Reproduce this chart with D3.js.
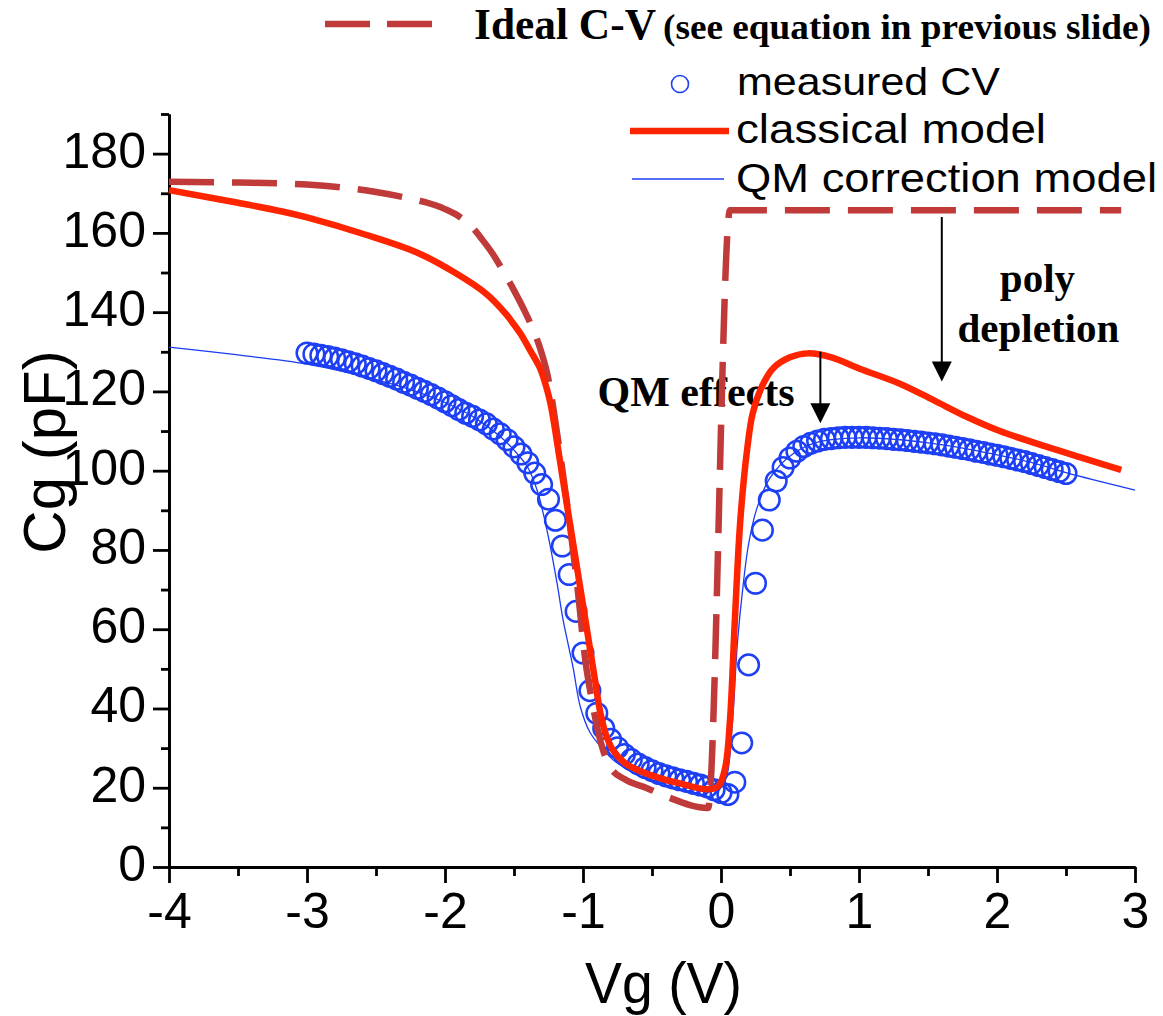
<!DOCTYPE html>
<html>
<head>
<meta charset="utf-8">
<script src="https://cdn.jsdelivr.net/npm/d3@7"></script>
<style>
  body { margin: 0; background: #ffffff; }
  svg { display: block; }
</style>
</head>
<body>
<svg id="chart" width="1163" height="1016"></svg>
<script>
// ---- data (Vg in volts, Cg in pF) ----
const idealCV = [
  [-4.00, 172.9], [-3.50, 172.7], [-3.00, 172.2], [-2.70, 171.3], [-2.50, 170.3],
  [-2.30, 169.0], [-2.15, 167.8], [-2.00, 166.0], [-1.90, 164.2], [-1.80, 161.3],
  [-1.73, 158.3], [-1.65, 154.5], [-1.57, 149.8], [-1.50, 145.5], [-1.43, 140.8],
  [-1.37, 136.3], [-1.31, 130.8], [-1.26, 124.6], [-1.17, 105.2], [-1.094, 86.0],
  [-1.02, 64.0], [-1.00, 57.0], [-0.93, 41.0], [-0.855, 29.5], [-0.80, 25.0],
  [-0.70, 22.2], [-0.536, 19.9], [-0.39, 17.7], [-0.094, 14.9], [0.065, 165.7],
  [2.90, 165.7]
];

const classicalModel = [
  [-4.00, 170.8], [-3.50, 167.6], [-3.18, 165.4], [-3.00, 163.9], [-2.58, 159.6],
  [-2.20, 155.0], [-1.93, 150.0], [-1.70, 144.6], [-1.55, 139.2], [-1.507, 137.2],
  [-1.45, 134.4], [-1.384, 130.4], [-1.312, 125.9], [-1.261, 120.5], [-1.23, 116.0],
  [-1.203, 110.5], [-1.145, 97.6], [-1.087, 85.0], [-1.029, 72.4], [-0.971, 59.8],
  [-0.913, 47.2], [-0.878, 39.6], [-0.833, 33.3], [-0.783, 29.5], [-0.696, 26.2],
  [-0.60, 24.4], [-0.536, 23.5], [-0.40, 22.0], [-0.297, 21.1], [-0.10, 19.6],
  [-0.02, 20.4], [0.03, 25.0], [0.065, 37.0], [0.10, 62.0], [0.14, 87.5],
  [0.19, 105.5], [0.23, 114.5], [0.30, 121.5], [0.377, 125.8], [0.50, 128.6],
  [0.63, 129.6], [0.80, 128.6], [1.00, 125.8], [1.30, 121.9], [1.54, 117.8],
  [1.78, 113.6], [2.02, 110.0], [2.38, 105.8], [2.60, 103.4], [2.90, 100.2]
];

const qmModel = [
  [-4.00, 131.2], [-3.50, 129.2], [-3.00, 126.9], [-2.50, 123.0], [-2.20, 119.9],
  [-2.00, 117.2], [-1.80, 113.7], [-1.60, 108.6], [-1.50, 105.2], [-1.40, 100.8],
  [-1.33, 94.8], [-1.26, 84.8], [-1.19, 72.0], [-1.145, 62.5], [-1.10, 55.0],
  [-1.07, 50.0], [-1.02, 40.5], [-0.95, 34.0], [-0.85, 29.5], [-0.78, 27.0],
  [-0.65, 24.0], [-0.536, 22.2], [-0.30, 20.8], [-0.06, 19.9], [0.00, 20.5],
  [0.04, 22.7], [0.08, 35.0], [0.12, 57.0], [0.16, 71.0], [0.20, 81.5],
  [0.26, 90.5], [0.355, 98.2], [0.52, 104.2], [0.70, 107.2], [1.00, 108.3],
  [1.30, 107.8], [1.50, 107.0], [1.80, 105.4], [2.00, 104.0], [2.26, 102.0],
  [2.50, 99.5], [3.00, 95.1]
];

const measuredCV = [
  [-3.00, 129.7], [-2.95, 129.4], [-2.90, 129.1], [-2.85, 128.8], [-2.80, 128.4],
  [-2.75, 128.0], [-2.70, 127.5], [-2.65, 127.0], [-2.60, 126.4], [-2.55, 125.8],
  [-2.50, 125.2], [-2.45, 124.5], [-2.40, 123.8], [-2.35, 123.1], [-2.30, 122.3],
  [-2.25, 121.6], [-2.20, 120.8], [-2.15, 120.0], [-2.10, 119.2], [-2.05, 118.3],
  [-2.00, 117.4], [-1.95, 116.4], [-1.90, 115.4], [-1.85, 114.5], [-1.80, 113.7],
  [-1.75, 112.8], [-1.70, 111.8], [-1.65, 110.5], [-1.60, 109.3], [-1.55, 107.8],
  [-1.50, 106.0], [-1.45, 104.2], [-1.40, 102.0], [-1.35, 99.4], [-1.30, 96.5],
  [-1.25, 92.8], [-1.20, 87.5], [-1.15, 81.0], [-1.10, 73.8], [-1.05, 64.5],
  [-1.00, 54.0], [-0.95, 44.5], [-0.90, 38.8], [-0.85, 35.0], [-0.80, 32.2],
  [-0.75, 30.1], [-0.70, 28.4], [-0.65, 27.1], [-0.60, 26.0], [-0.55, 25.1],
  [-0.50, 24.3], [-0.45, 23.6], [-0.40, 23.0], [-0.35, 22.5], [-0.30, 22.0],
  [-0.25, 21.6], [-0.20, 21.1], [-0.15, 20.7], [-0.10, 20.2], [-0.05, 19.5],
  [0.00, 18.8], [0.05, 18.3], [0.10, 21.4], [0.15, 31.3], [0.20, 51.0],
  [0.25, 71.6], [0.30, 85.0], [0.35, 92.6], [0.40, 97.4], [0.45, 100.8],
  [0.50, 103.2], [0.55, 104.9], [0.60, 106.1], [0.65, 106.9], [0.70, 107.5],
  [0.75, 107.9], [0.80, 108.1], [0.85, 108.3], [0.90, 108.4], [0.95, 108.4],
  [1.00, 108.4], [1.05, 108.4], [1.10, 108.3], [1.15, 108.2], [1.20, 108.1],
  [1.25, 107.9], [1.30, 107.8], [1.35, 107.6], [1.40, 107.4], [1.45, 107.2],
  [1.50, 107.0], [1.55, 106.8], [1.60, 106.5], [1.65, 106.2], [1.70, 105.9],
  [1.75, 105.6], [1.80, 105.3], [1.85, 104.9], [1.90, 104.6], [1.95, 104.2],
  [2.00, 103.9], [2.05, 103.5], [2.10, 103.1], [2.15, 102.7], [2.20, 102.3],
  [2.25, 101.8], [2.30, 101.3], [2.35, 100.8], [2.40, 100.3], [2.45, 99.8],
  [2.50, 99.3]
];

const xMajorTicks = [-4, -3, -2, -1, 0, 1, 2, 3];
const xTickLabels = ["-4", "-3", "-2", "-1", "0", "1", "2", "3"];
const xMinorTicks = [-3.5, -2.5, -1.5, -0.5, 0.5, 1.5, 2.5];
const yMajorTicks = [0, 20, 40, 60, 80, 100, 120, 140, 160, 180];
const yTickLabels = ["0", "20", "40", "60", "80", "100", "120", "140", "160", "180"];
const yMinorTicks = [10, 30, 50, 70, 90, 110, 130, 150, 170, 190];

// arrows: [Vg, Cg from, Cg to]
const arrowQM = [0.72, 130.0, 112.0];
const arrowPoly = [1.60, 164.0, 122.5];

// ---- drawing ----
const SANS = "'Liberation Sans', Arial, Helvetica, sans-serif";
const SERIF = "'Liberation Serif', 'Times New Roman', Times, serif";
const C_IDEAL = "#bf3a38";
const C_CLASSIC = "#ff2400";
const C_QM = "#1a3cf5";
const C_MEAS = "#1d3ff5";

const svg = d3.select("#chart");
const x = d3.scaleLinear().domain([-4, 3]).range([169, 1135]);
const y = d3.scaleLinear().domain([0, 190]).range([867, 114]);

// axes
function styleAxis(g) {
  g.selectAll("path.domain").attr("stroke", "#000").attr("stroke-width", 2.8).attr("fill", "none");
  g.selectAll(".tick line").attr("stroke", "#000").attr("stroke-width", 2.8);
}

const xMinorAxis = svg.append("g").attr("transform", `translate(0,${y(0)})`)
  .call(d3.axisBottom(x).tickValues(xMinorTicks).tickSize(9).tickSizeOuter(0).tickFormat(""));
styleAxis(xMinorAxis);
const xAxis = svg.append("g").attr("transform", `translate(0,${y(0)})`)
  .call(d3.axisBottom(x).tickValues(xMajorTicks).tickSize(16).tickSizeOuter(0).tickPadding(9)
    .tickFormat((d, i) => xTickLabels[i]));
styleAxis(xAxis);
xAxis.selectAll(".tick text")
  .attr("font-family", SANS).attr("font-size", 50).attr("fill", "#000");

const yMinorAxis = svg.append("g").attr("transform", `translate(${x(-4)},0)`)
  .call(d3.axisLeft(y).tickValues(yMinorTicks).tickSize(8).tickSizeOuter(0).tickFormat(""));
styleAxis(yMinorAxis);
const yAxis = svg.append("g").attr("transform", `translate(${x(-4)},0)`)
  .call(d3.axisLeft(y).tickValues(yMajorTicks).tickSize(16).tickSizeOuter(0).tickPadding(7)
    .tickFormat((d, i) => yTickLabels[i]));
styleAxis(yAxis);
yAxis.selectAll(".tick text")
  .attr("font-family", SANS).attr("font-size", 50).attr("fill", "#000").attr("dy", "0.27em");

// axis titles
svg.append("text")
  .attr("transform", "translate(65,452) rotate(-90)")
  .attr("text-anchor", "middle")
  .attr("font-family", SANS).attr("font-size", 60).attr("fill", "#000")
  .text("Cg (pF)");
svg.append("text")
  .attr("x", 585).attr("y", 1003)
  .attr("textLength", 157).attr("lengthAdjust", "spacingAndGlyphs")
  .attr("font-family", SANS).attr("font-size", 58).attr("fill", "#000")
  .text("Vg (V)");

// annotation text
svg.append("text")
  .attr("x", x(-0.181)).attr("y", y(116.3)).attr("text-anchor", "middle")
  .attr("font-family", SERIF).attr("font-weight", "bold").attr("font-size", 42).attr("fill", "#000")
  .text("QM effects");
svg.append("text")
  .attr("x", x(2.293)).attr("y", y(145.0)).attr("text-anchor", "middle")
  .attr("font-family", SERIF).attr("font-weight", "bold").attr("font-size", 41).attr("fill", "#000")
  .text("poly");
svg.append("text")
  .attr("x", x(2.30)).attr("y", y(132.4)).attr("text-anchor", "middle")
  .attr("font-family", SERIF).attr("font-weight", "bold").attr("font-size", 41).attr("fill", "#000")
  .text("depletion");

// measured points
svg.append("g").selectAll("circle")
  .data(measuredCV).join("circle")
  .attr("cx", d => x(d[0])).attr("cy", d => y(d[1])).attr("r", 10.3)
  .attr("fill", "none").attr("stroke", C_MEAS).attr("stroke-width", 2.5);

const smoothLine = d3.line().x(d => x(d[0])).y(d => y(d[1])).curve(d3.curveCatmullRom.alpha(0.5));
const monoLine = d3.line().x(d => x(d[0])).y(d => y(d[1])).curve(d3.curveMonotoneX);

// QM correction model
svg.append("path").datum(qmModel).attr("d", smoothLine)
  .attr("fill", "none").attr("stroke", C_QM).attr("stroke-width", 1.3);

// ideal C-V
svg.append("path").datum(idealCV).attr("d", monoLine)
  .attr("fill", "none").attr("stroke", C_IDEAL).attr("stroke-width", 6.5)
  .attr("stroke-dasharray", "45,18");

// classical model
svg.append("path").datum(classicalModel).attr("d", smoothLine)
  .attr("fill", "none").attr("stroke", C_CLASSIC).attr("stroke-width", 6.5)
  .attr("stroke-linejoin", "round");

// arrows
function arrow(a) {
  const ax = x(a[0]), y0 = y(a[1]), y1 = y(a[2]);
  svg.append("line").attr("x1", ax).attr("x2", ax).attr("y1", y0).attr("y2", y1 - 18)
    .attr("stroke", "#000").attr("stroke-width", 2);
  svg.append("path")
    .attr("d", `M${ax - 10},${y1 - 20} L${ax + 10},${y1 - 20} L${ax},${y1} Z`)
    .attr("fill", "#000");
}
arrow(arrowQM);
arrow(arrowPoly);

// legend
const lg = svg.append("g");
lg.append("line").attr("x1", 325).attr("x2", 432).attr("y1", 24).attr("y2", 24)
  .attr("stroke", C_IDEAL).attr("stroke-width", 6.5).attr("stroke-dasharray", "45,17");
lg.append("text").attr("x", 474).attr("y", 39)
  .attr("textLength", 182).attr("lengthAdjust", "spacingAndGlyphs")
  .attr("font-family", SERIF).attr("font-weight", "bold").attr("font-size", 44).attr("fill", "#000")
  .text("Ideal C-V");
lg.append("text").attr("x", 663).attr("y", 39)
  .attr("textLength", 488).attr("lengthAdjust", "spacingAndGlyphs")
  .attr("font-family", SERIF).attr("font-weight", "bold").attr("font-size", 35).attr("fill", "#000")
  .text("(see equation in previous slide)");

lg.append("circle").attr("cx", 680).attr("cy", 84).attr("r", 8.5)
  .attr("fill", "none").attr("stroke", C_MEAS).attr("stroke-width", 1.6);
lg.append("text").attr("x", 737).attr("y", 95)
  .attr("textLength", 263).attr("lengthAdjust", "spacingAndGlyphs")
  .attr("font-family", SANS).attr("font-size", 39).attr("fill", "#000")
  .text("measured CV");

lg.append("line").attr("x1", 630).attr("x2", 729).attr("y1", 131).attr("y2", 131)
  .attr("stroke", C_CLASSIC).attr("stroke-width", 6.5);
lg.append("text").attr("x", 736).attr("y", 143)
  .attr("textLength", 310).attr("lengthAdjust", "spacingAndGlyphs")
  .attr("font-family", SANS).attr("font-size", 40).attr("fill", "#000")
  .text("classical model");

lg.append("line").attr("x1", 632).attr("x2", 724).attr("y1", 179).attr("y2", 179)
  .attr("stroke", C_QM).attr("stroke-width", 1.3);
lg.append("text").attr("x", 736).attr("y", 192)
  .attr("textLength", 421).attr("lengthAdjust", "spacingAndGlyphs")
  .attr("font-family", SANS).attr("font-size", 40).attr("fill", "#000")
  .text("QM correction model");
</script>
</body>
</html>
